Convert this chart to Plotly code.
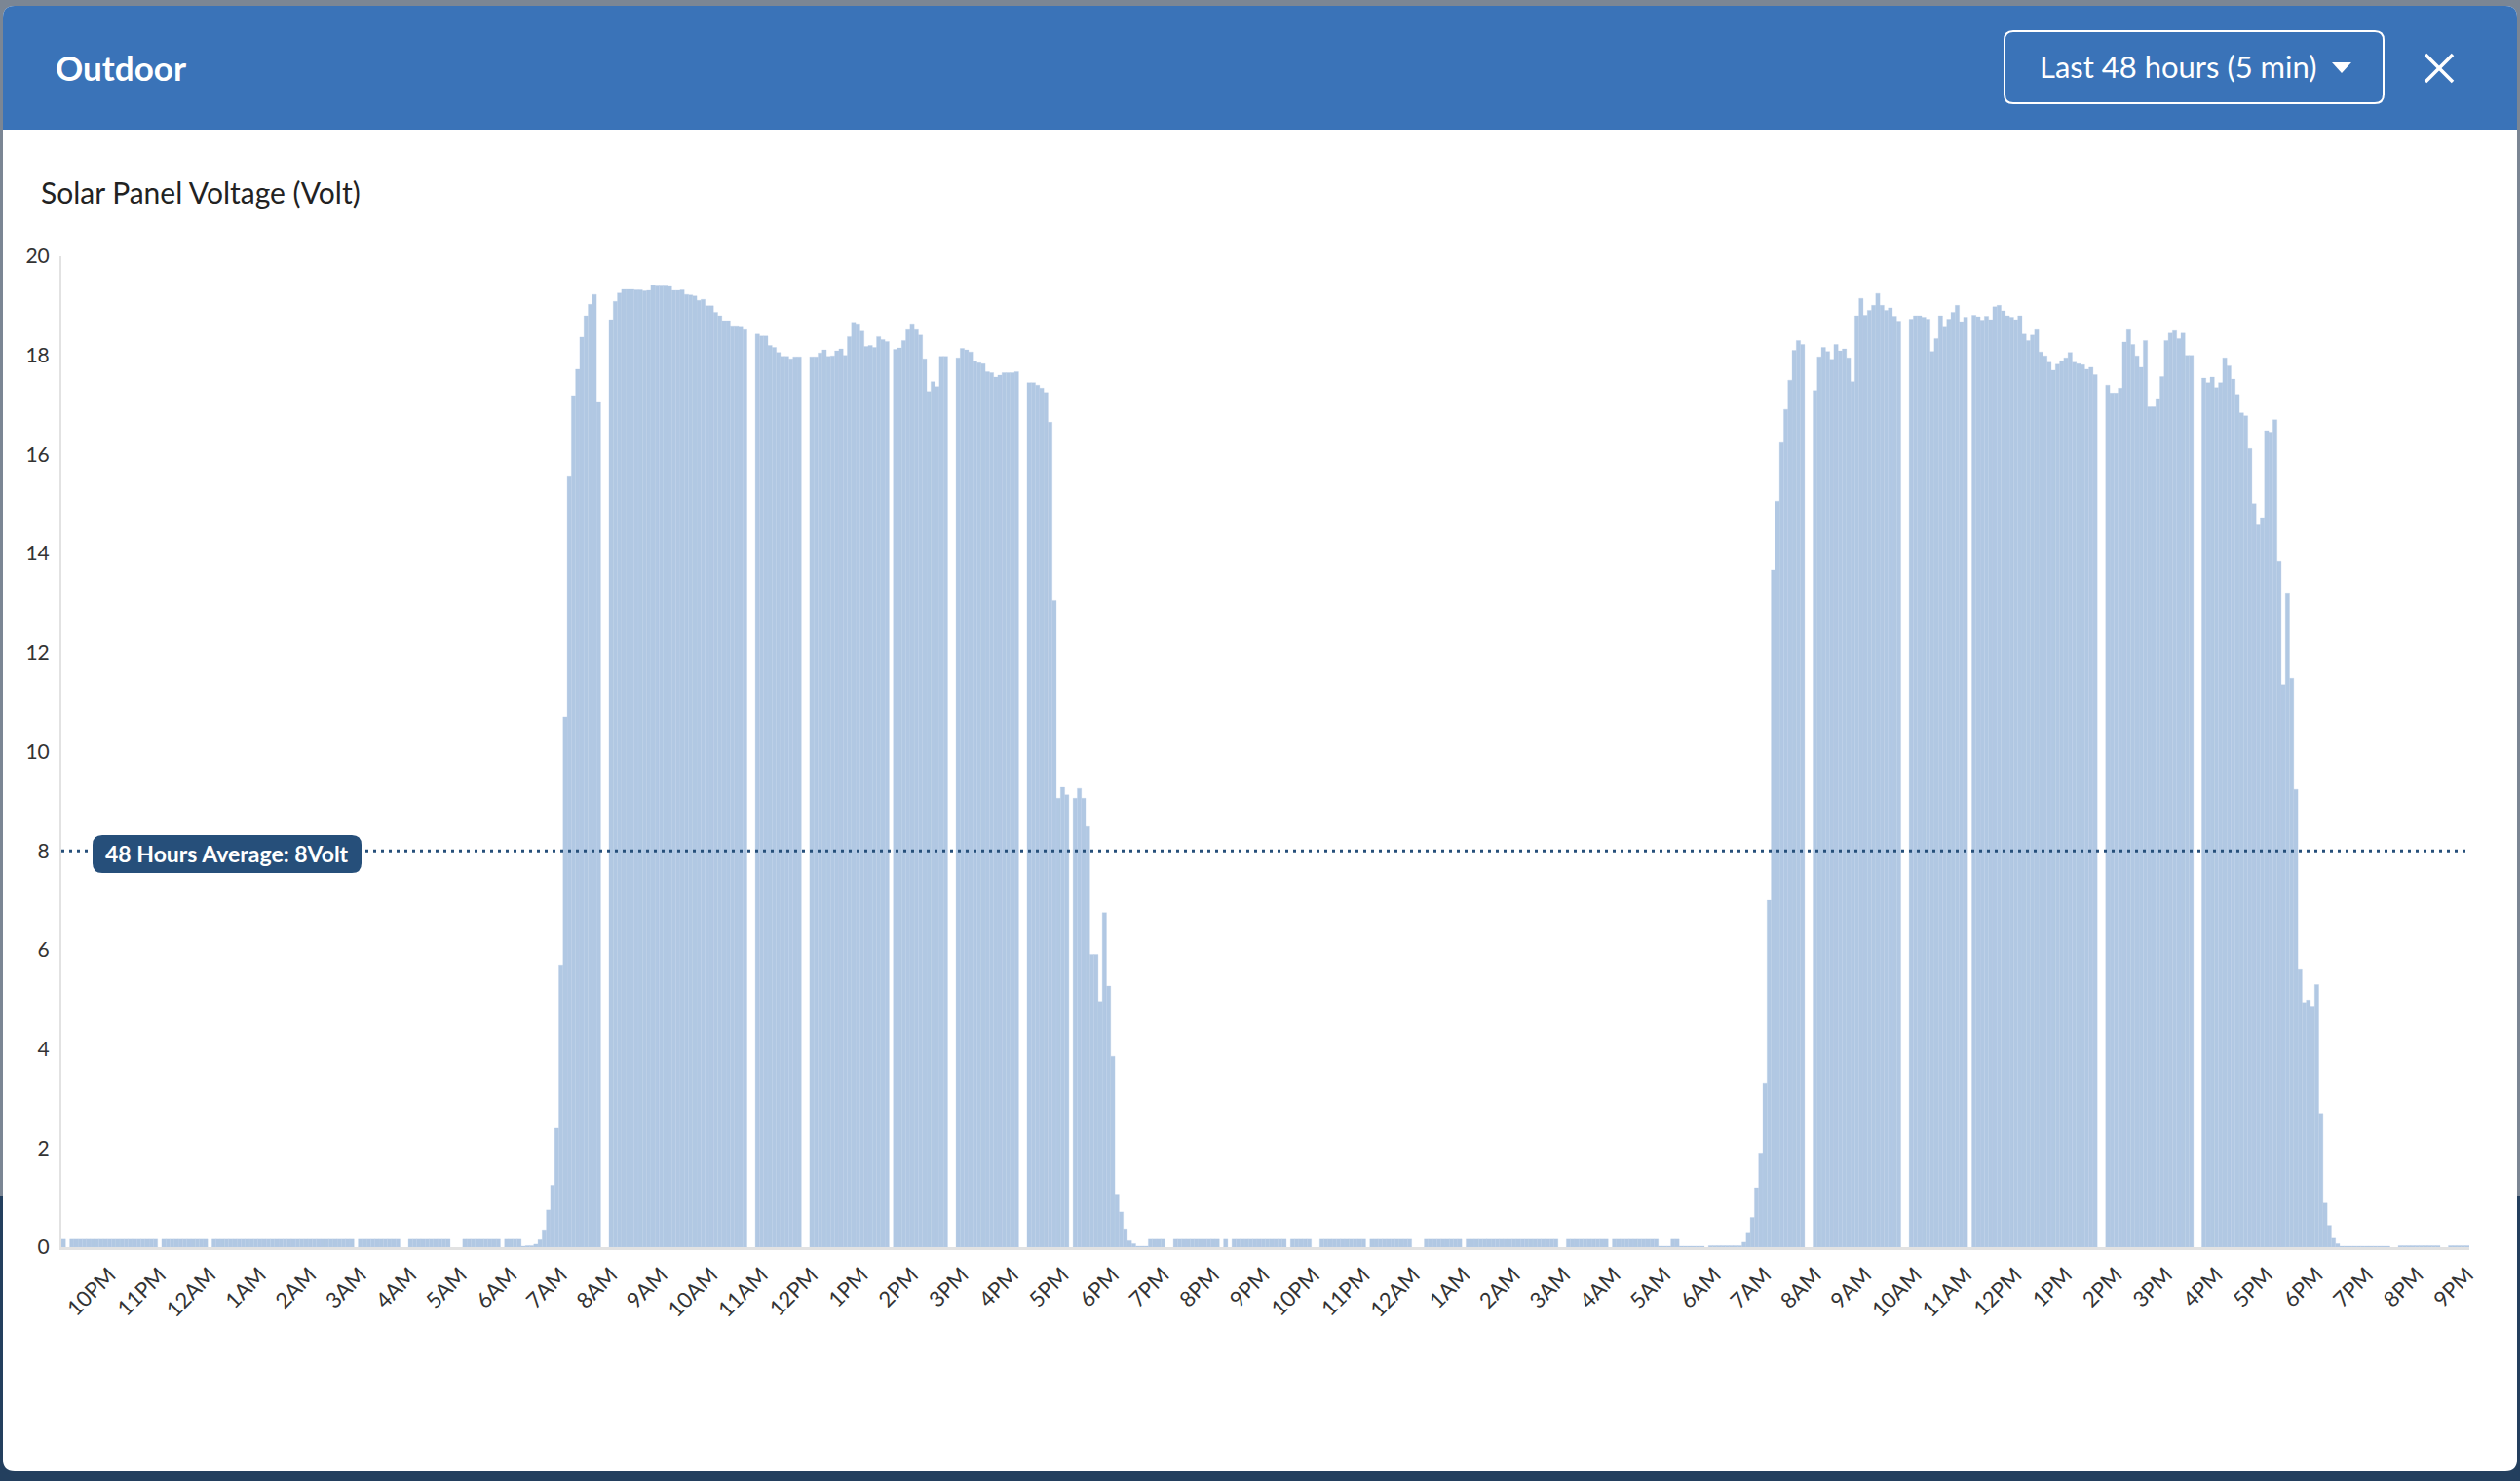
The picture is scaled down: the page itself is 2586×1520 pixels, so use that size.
import plotly.graph_objects as go
import pandas as pd

N = None

# ---------------- DATA (5-minute samples, 48 hours, starting 21:05) ----------------
start_time = "2024-05-01 21:05"

night_1 = [
    0.16, N, 0.16, 0.16, 0.16, 0.16, 0.16, 0.16, 0.16, 0.16, 0.16, 0.16,
    0.16, 0.16, 0.16, 0.16, 0.16, 0.16, 0.16, 0.16, 0.16, 0.16, 0.16, N,
    0.16, 0.16, 0.16, 0.16, 0.16, 0.16, 0.16, 0.16, 0.16, 0.16, 0.16, N,
    0.16, 0.16, 0.16, 0.16, 0.16, 0.16, 0.16, 0.16, 0.16, 0.16, 0.16, 0.16,
    0.16, 0.16, 0.16, 0.16, 0.16, 0.16, 0.16, 0.16, 0.16, 0.16, 0.16, 0.16,
    0.16, 0.16, 0.16, 0.16, 0.16, 0.16, 0.16, 0.16, 0.16, 0.16, N, 0.16,
    0.16, 0.16, 0.16, 0.16, 0.16, 0.16, 0.16, 0.16, 0.16, N, N, 0.16,
    0.16, 0.16, 0.16, 0.16, 0.16, 0.16, 0.16, 0.16, 0.16, N, N, N,
    0.16, 0.16, 0.16, 0.16, 0.16, 0.16, 0.16, 0.16, 0.16, N, 0.16, 0.16,
    0.16, 0.16, 0.02, 0.03, 0.03,
]

day_1 = [
    0.06, 0.15, 0.35, 0.75, 1.25, 2.4, 5.7, 10.7, 15.55, 17.19, 17.72, 18.37,
    18.80, 19.03, 19.23, 17.05, N, N, 18.72, 19.09, 19.26, 19.33, 19.33, 19.33,
    19.32, 19.32, 19.30, 19.31, 19.41, 19.40, 19.40, 19.40, 19.39, 19.31, 19.31, 19.32,
    19.23, 19.22, 19.20, 19.11, 19.13, 19.00, 19.00, 18.87, 18.80, 18.70, 18.70, 18.58,
    18.58, 18.57, 18.52, N, N, 18.43, 18.39, 18.39, 18.20, 18.16, 18.06, 17.98,
    17.98, 17.93, 17.97, 17.97, N, N, 17.97, 17.97, 18.05, 18.11, 17.98, 17.99,
    18.09, 18.13, 18.00, 18.38, 18.67, 18.62, 18.49, 18.18, 18.20, 18.16, 18.38, 18.32,
    18.28, N, 18.12, 18.15, 18.30, 18.52, 18.62, 18.52, 18.41, 17.93, 17.27, 17.47,
    17.37, 17.98, 17.98, N, N, 17.95, 18.14, 18.11, 18.07, 17.88, 17.85, 17.83,
    17.67, 17.65, 17.56, 17.60, 17.65, 17.65, 17.65, 17.67, N, N, 17.45, 17.45,
    17.40, 17.34, 17.25, 16.65, 13.05, 9.06, 9.28, 9.13, N, 9.06, 9.26, 9.06,
    8.49, 5.91, 5.91, 4.96, 6.75, 5.27, 3.85, 1.07, 0.71, 0.37, 0.13, 0.07,
    0.02, 0.02, 0.02,
]

night_2 = [
    0.16, 0.16, 0.16, 0.16, N, N, 0.16, 0.16, 0.16, 0.16, 0.16, 0.16,
    0.16, 0.16, 0.16, 0.16, 0.16, N, 0.16, N, 0.16, 0.16, 0.16, 0.16,
    0.16, 0.16, 0.16, 0.16, 0.16, 0.16, 0.16, 0.16, 0.16, N, 0.16, 0.16,
    0.16, 0.16, 0.16, N, N, 0.16, 0.16, 0.16, 0.16, 0.16, 0.16, 0.16,
    0.16, 0.16, 0.16, 0.16, N, 0.16, 0.16, 0.16, 0.16, 0.16, 0.16, 0.16,
    0.16, 0.16, 0.16, N, N, N, 0.16, 0.16, 0.16, 0.16, 0.16, 0.16,
    0.16, 0.16, 0.16, N, 0.16, 0.16, 0.16, 0.16, 0.16, 0.16, 0.16, 0.16,
    0.16, 0.16, 0.16, 0.16, 0.16, 0.16, 0.16, 0.16, 0.16, 0.16, 0.16, 0.16,
    0.16, 0.16, N, N, 0.16, 0.16, 0.16, 0.16, 0.16, 0.16, 0.16, 0.16,
    0.16, 0.16, N, 0.16, 0.16, 0.16, 0.16, 0.16, 0.16, 0.16, 0.16, 0.16,
    0.16, 0.16, 0.02, 0.02, 0.02, 0.16, 0.16, 0.02, 0.02, 0.02, 0.02, 0.02,
    0.02, N, 0.03, 0.03, 0.03, 0.03, 0.03, 0.03, 0.03, 0.03,
]

day_2 = [
    0.10, 0.30, 0.60, 1.20, 1.90, 3.30, 7.00, 13.67, 15.06, 16.24, 16.91, 17.50,
    18.10, 18.30, 18.22, N, N, 17.29, 17.97, 18.16, 18.08, 17.92, 18.22, 18.09,
    18.13, 17.95, 17.47, 18.80, 19.15, 18.81, 18.91, 19.01, 19.25, 19.01, 18.91, 18.96,
    18.79, 18.69, N, N, 18.73, 18.80, 18.80, 18.77, 18.73, 18.08, 18.34, 18.80,
    18.57, 18.73, 18.87, 19.01, 18.68, 18.77, N, 18.81, 18.78, 18.71, 18.79, 18.72,
    18.98, 19.01, 18.90, 18.80, 18.77, 18.72, 18.80, 18.43, 18.30, 18.41, 18.52, 18.07,
    17.99, 17.86, 17.70, 17.82, 17.89, 17.95, 18.06, 17.86, 17.83, 17.81, 17.72, 17.76,
    17.61, N, N, 17.40, 17.24, 17.24, 17.34, 18.27, 18.52, 18.22, 17.99, 17.76,
    18.30, 16.96, 16.96, 17.13, 17.57, 18.30, 18.45, 18.50, 18.34, 18.45, 18.00, 18.00,
    N, N, 17.54, 17.45, 17.56, 17.35, 17.45, 17.95, 17.79, 17.52, 17.21, 16.84,
    16.78, 16.12, 15.01, 14.58, 14.71, 16.48, 16.45, 16.70, 13.84, 11.35, 13.19, 11.48,
    9.24, 5.60, 4.94, 4.99, 4.85, 5.30, 2.70, 0.89, 0.44, 0.18, 0.07,
]

evening_2 = [
    0.02, 0.02, 0.02, 0.02, 0.02, 0.02, 0.02, 0.02, 0.02, 0.02, 0.02, 0.02,
    N, N, 0.03, 0.03, 0.03, 0.03, 0.03, 0.03, 0.03, 0.03, 0.03, 0.03,
    N, N, 0.03, 0.03, 0.03, 0.03, 0.03,
]

average_volt = 8

hour_labels = [
    "10PM", "11PM", "12AM", "1AM", "2AM", "3AM", "4AM", "5AM", "6AM", "7AM", "8AM", "9AM",
    "10AM", "11AM", "12PM", "1PM", "2PM", "3PM", "4PM", "5PM", "6PM", "7PM", "8PM", "9PM",
    "10PM", "11PM", "12AM", "1AM", "2AM", "3AM", "4AM", "5AM", "6AM", "7AM", "8AM", "9AM",
    "10AM", "11AM", "12PM", "1PM", "2PM", "3PM", "4PM", "5PM", "6PM", "7PM", "8PM", "9PM",
]
first_label_time = "2024-05-01 22:00"

y_ticks = [0, 2, 4, 6, 8, 10, 12, 14, 16, 18, 20]

title_text = "Outdoor"
range_text = "Last 48 hours (5 min)"
chart_title = "Solar Panel Voltage (Volt)"
avg_label = f"48 Hours Average: {average_volt}Volt"

# ---------------- BUILD ----------------
volts = night_1 + day_1 + night_2 + day_2 + evening_2
times = pd.date_range(start_time, periods=len(volts), freq="5min")
tick_times = pd.date_range(first_label_time, periods=len(hour_labels), freq="h")
half = pd.Timedelta(minutes=2.5)
x_range = [times[0] - half, times[-1] + half]

W, H = 2586, 1520
PL, PR, PT, PB = 63, 2534, 263, 1280


def X(px):
    return (px - PL) / (PR - PL)


def Y(py):
    return (PB - py) / (PB - PT)


def rrect(x0, y0, x1, y1, rt, rb):
    return (
        f"M {X(x0 + rt)},{Y(y0)} L {X(x1 - rt)},{Y(y0)} Q {X(x1)},{Y(y0)} {X(x1)},{Y(y0 + rt)} "
        f"L {X(x1)},{Y(y1 - rb)} Q {X(x1)},{Y(y1)} {X(x1 - rb)},{Y(y1)} "
        f"L {X(x0 + rb)},{Y(y1)} Q {X(x0)},{Y(y1)} {X(x0)},{Y(y1 - rb)} "
        f"L {X(x0)},{Y(y0 + rt)} Q {X(x0)},{Y(y0)} {X(x0 + rt)},{Y(y0)} Z"
    )


FONT = "Lato"
BLUE = "#3a73b8"
NAVY = "#264f7a"

fig = go.Figure()
fig.add_trace(go.Bar(
    x=times, y=volts,
    marker=dict(color="#b1c8e3", line=dict(color="#b8cde6", width=0.3)),
    hoverinfo="skip", showlegend=False,
))

shapes = [
    # outer page background (lower dark part)
    dict(type="rect", xref="paper", yref="paper", x0=X(0), x1=X(W), y0=Y(1228), y1=Y(H),
         fillcolor="#233f5e", line=dict(width=0), layer="below"),
    # modal body
    dict(type="path", xref="paper", yref="paper", path=rrect(3, 6, 2583, 1510, 12, 12),
         fillcolor="#ffffff", line=dict(width=0), layer="below"),
    # header band
    dict(type="path", xref="paper", yref="paper", path=rrect(3, 6, 2583, 133, 12, 0),
         fillcolor=BLUE, line=dict(width=0), layer="below"),
    # dropdown box
    dict(type="path", xref="paper", yref="paper", path=rrect(2057, 32, 2446, 106, 9, 9),
         fillcolor="rgba(0,0,0,0)", line=dict(color="#ffffff", width=2), layer="above"),
    # dropdown caret
    dict(type="path", xref="paper", yref="paper",
         path=f"M {X(2393)},{Y(64)} L {X(2413)},{Y(64)} L {X(2403)},{Y(75)} Z",
         fillcolor="#ffffff", line=dict(width=0), layer="above"),
    # close X
    dict(type="line", xref="paper", yref="paper", x0=X(2489), y0=Y(56), x1=X(2517), y1=Y(84),
         line=dict(color="#ffffff", width=3.5), layer="above"),
    dict(type="line", xref="paper", yref="paper", x0=X(2517), y0=Y(56), x1=X(2489), y1=Y(84),
         line=dict(color="#ffffff", width=3.5), layer="above"),
    # average line
    dict(type="line", xref="x", yref="y", x0=x_range[0], x1=times[-1] + half * 0.4,
         y0=average_volt, y1=average_volt,
         line=dict(color=NAVY, width=3, dash="3px,5px"), layer="above"),
    # average label box
    dict(type="path", xref="paper", yref="paper", path=rrect(95, 857, 371, 896, 10, 10),
         fillcolor=NAVY, line=dict(width=0), layer="above"),
]

annotations = [
    dict(text=title_text, xref="paper", yref="paper", x=X(55), y=Y(69),
         xanchor="left", yanchor="middle", showarrow=False,
         font=dict(family=FONT, size=35, color="#ffffff", weight="bold")),
    dict(text=range_text, xref="paper", yref="paper", x=X(2091), y=Y(68),
         xanchor="left", yanchor="middle", showarrow=False,
         font=dict(family=FONT, size=31, color="#ffffff")),
    dict(text=chart_title, xref="paper", yref="paper", x=X(40), y=Y(197),
         xanchor="left", yanchor="middle", showarrow=False,
         font=dict(family=FONT, size=30, color="#222222")),
    dict(text=avg_label, xref="paper", yref="paper", x=X(233), y=Y(876),
         xanchor="center", yanchor="middle", showarrow=False,
         font=dict(family=FONT, size=23, color="#ffffff", weight="bold")),
]

fig.update_layout(
    width=W, height=H,
    margin=dict(l=PL, r=W - PR, t=PT, b=H - PB, pad=0),
    paper_bgcolor="#7b8694",
    plot_bgcolor="rgba(0,0,0,0)",
    bargap=0,
    showlegend=False,
    shapes=shapes,
    annotations=annotations,
    font=dict(family=FONT, color="#333333"),
    xaxis=dict(
        type="date", range=x_range,
        tickmode="array", tickvals=tick_times, ticktext=hour_labels,
        tickangle=-45, tickfont=dict(family=FONT, size=22, color="#333333"),
        showgrid=False, zeroline=False,
        showline=True, linecolor="#e2e2e2", linewidth=3,
        ticks="", ticklabelstandoff=4,
    ),
    yaxis=dict(
        range=[0, 20], tickmode="array", tickvals=y_ticks,
        tickfont=dict(family=FONT, size=21, color="#333333"),
        showgrid=False, zeroline=False,
        showline=True, linecolor="#e2e2e2", linewidth=2,
        ticks="", ticklabelstandoff=6,
    ),
)

fig.write_html(
    "out.html",
    config={"displayModeBar": False, "staticPlot": True},
    post_script="document.body.style.margin='0';document.body.style.overflow='hidden';",
)
